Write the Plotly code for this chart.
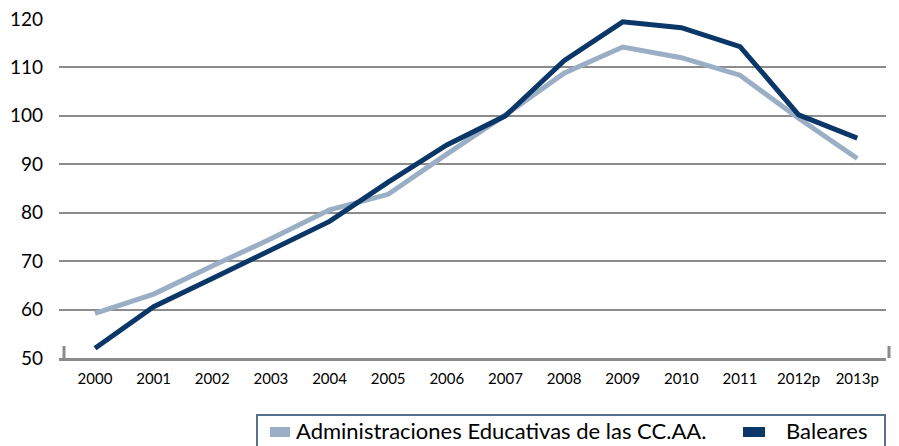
import plotly.graph_objects as go

years = ["2000", "2001", "2002", "2003", "2004", "2005", "2006", "2007",
         "2008", "2009", "2010", "2011", "2012p", "2013p"]
admin_ccaa = [59.2, 63.2, 69.0, 74.6, 80.6, 83.8, 92.1, 100.2, 108.8, 114.2,
              112.0, 108.4, 99.5, 91.2]
baleares = [52.0, 60.6, 66.4, 72.3, 78.2, 86.3, 94.0, 100.0, 111.4, 119.4,
            118.2, 114.3, 100.2, 95.4]
y_ticks = [50, 60, 70, 80, 90, 100, 110, 120]

name_admin = "Administraciones Educativas de las CC.AA."
name_bal = "Baleares"
c_light = "#9AAFC5"
c_dark = "#0A3768"
grid_c = "#8C8C8C"
border_c = "#56718E"
font_fam = "Lato, 'Open Sans', sans-serif"

W, H = 899, 446
OFF = 8  # page body margin offset
# plot area in window pixels: x 59..886, y 18..358
ML, MT = 59 - OFF, 18 - OFF
MR, MB = W - (886 - OFF), H - (358 - OFF)
PW, PH = W - ML - MR, H - MT - MB


def px(x):
    return (x - OFF - ML) / PW


def py(y):
    return (H - MB - (y - OFF)) / PH


fig = go.Figure()
fig.add_trace(go.Scatter(x=years, y=admin_ccaa, mode="lines", name=name_admin,
                         line=dict(color=c_light, width=5)))
fig.add_trace(go.Scatter(x=years, y=baleares, mode="lines", name=name_bal,
                         line=dict(color=c_dark, width=5)))

shapes = [
    # end ticks of the category axis
    dict(type="line", xref="paper", yref="paper", x0=px(64), x1=px(64), y0=0, y1=py(346),
         line=dict(color=grid_c, width=3)),
    dict(type="line", xref="paper", yref="paper", x0=px(889), x1=px(889), y0=0, y1=py(346),
         line=dict(color=grid_c, width=3)),
    # legend box
    dict(type="rect", xref="paper", yref="paper", x0=px(257), x1=px(885), y0=py(415), y1=py(460),
         line=dict(color=border_c, width=2), fillcolor="rgba(0,0,0,0)"),
    # legend swatches
    dict(type="rect", xref="paper", yref="paper", x0=px(270), x1=px(290), y0=py(427), y1=py(437),
         line=dict(width=0), fillcolor=c_light),
    dict(type="rect", xref="paper", yref="paper", x0=px(743), x1=px(765), y0=py(427), y1=py(437),
         line=dict(width=0), fillcolor=c_dark),
]
annotations = [
    dict(xref="paper", yref="paper", x=px(294), y=py(431), xanchor="left", yanchor="middle",
         text=name_admin, showarrow=False, font=dict(size=22, color="#000")),
    dict(xref="paper", yref="paper", x=px(784), y=py(431), xanchor="left", yanchor="middle",
         text=name_bal, showarrow=False, font=dict(size=22, color="#000")),
]

fig.update_layout(
    width=W, height=H,
    margin=dict(l=ML, r=MR, t=MT, b=MB),
    plot_bgcolor="white", paper_bgcolor="white",
    font=dict(family=font_fam, color="#000000"),
    showlegend=False,
    shapes=shapes,
    annotations=annotations,
)
fig.update_xaxes(type="category", range=[-0.614, 13.49], tickvals=years, ticktext=years,
                 showgrid=False, showline=True, linecolor=grid_c, linewidth=3,
                 ticks="", tickfont=dict(size=15), ticklabelstandoff=5, zeroline=False,
                 automargin=False, ticklabeloverflow="allow")
fig.update_yaxes(range=[50, 120.2], tickvals=y_ticks, showgrid=True, gridcolor=grid_c,
                 gridwidth=2, showline=False, zeroline=False, ticks="",
                 tickfont=dict(size=19), ticklabelstandoff=15, automargin=False,
                 ticklabeloverflow="allow")

fig.write_html("out.html")
